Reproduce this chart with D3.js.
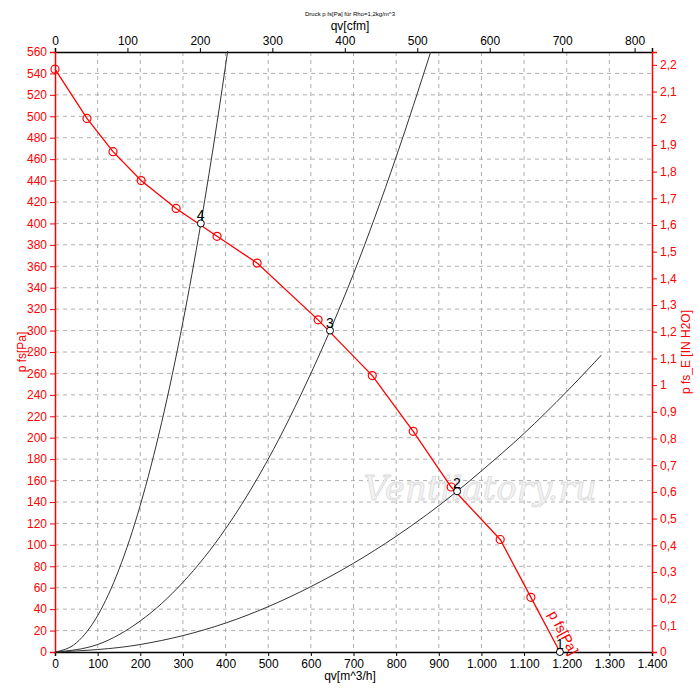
<!DOCTYPE html>
<html><head><meta charset="utf-8">
<script src="https://cdn.jsdelivr.net/npm/d3@7"></script>
<style>body{margin:0;background:#fff;font-family:"Liberation Sans",Arial,sans-serif;}</style>
</head><body><svg id="c" width="700" height="696"></svg>
<script>
// fan curve, markers (m3/h, Pa)
var fanQ = [0, 75, 136, 202, 284, 380, 474, 617, 744, 840, 929, 1044, 1116, 1184];
var fanP = [544, 498, 467, 440, 414, 388, 363, 310, 258, 206, 154, 105, 51, 0];
// system curves
var sysA_Q = [0, 50, 100, 150, 200, 250, 300, 342, 380, 405];
var sysA_P = [0, 8.5, 34, 77, 137, 214, 308, 400, 494, 561];
var sysB_Q = [0, 100, 200, 300, 400, 500, 600, 645, 700, 800, 881];
var sysB_P = [0, 7, 29, 65, 115, 180, 260, 300, 353, 462, 560];
var sysC_Q = [0, 200, 400, 600, 800, 943, 1000, 1100, 1200, 1281];
var sysC_P = [0, 7, 27, 61, 108, 150, 169, 204, 243, 277];
// operating points
var opLabels = ['1', '2', '3', '4'];
var opQ = [1184, 943, 645, 342];
var opP = [0, 150, 300, 400];

var svg = d3.select('#c');
var L = 55, R = 652, T = 52, B = 652;
var x = d3.scaleLinear().domain([0, 1400]).range([L, R]);
var y = d3.scaleLinear().domain([0, 560]).range([B, T]);
var xc = d3.scaleLinear().domain([0, 1400 / 1.699]).range([L, R]);
var yi = d3.scaleLinear().domain([0, 560 / 249.09]).range([B, T]);
var red = '#ff0000';

// grid
var g = svg.append('g').attr('stroke', '#b0b0b0').attr('stroke-dasharray', '4,4');
d3.range(100, 1400, 100).forEach(function (v) {
    g.append('line').attr('x1', x(v)).attr('x2', x(v)).attr('y1', T).attr('y2', B);
});
d3.range(20, 560, 20).forEach(function (v) {
    g.append('line').attr('x1', L).attr('x2', R).attr('y1', y(v)).attr('y2', y(v));
});

function fmtQ(d) { return d >= 1000 ? d3.format(',')(d).replace(',', '.') : d; }
var ax = svg.append('g').attr('transform', 'translate(0,' + B + ')')
    .call(d3.axisBottom(x).tickValues(d3.range(0, 1401, 100)).tickFormat(fmtQ).tickSize(4));
var at = svg.append('g').attr('transform', 'translate(0,' + T + ')')
    .call(d3.axisTop(xc).tickValues(d3.range(0, 801, 100)).tickSize(4));
var al = svg.append('g').attr('transform', 'translate(' + L + ',0)')
    .call(d3.axisLeft(y).tickValues(d3.range(0, 561, 20)).tickSize(5));
var ar = svg.append('g').attr('transform', 'translate(' + R + ',0)')
    .call(d3.axisRight(yi).tickValues(d3.range(0, 23).map(function (i) { return i / 10; }))
        .tickFormat(function (d) { return d3.format('.1~f')(d).replace('.', ','); }).tickSize(5));
[ax, at, al, ar].forEach(function (a) {
    a.selectAll('text').style('font-size', '12px').style('font-family', '"Liberation Sans",Arial');
    a.select('.domain').attr('stroke-width', 1.5);
});
[al, ar].forEach(function (a) {
    a.selectAll('text').attr('fill', red);
    a.selectAll('line,.domain').attr('stroke', red);
});

// watermark
svg.append('text').attr('x', 480).attr('y', 500).attr('text-anchor', 'middle')
    .attr('fill', '#f2f2f2').attr('stroke', '#dcdcdc').attr('stroke-width', 0.8)
    .style('font-family', '"DejaVu Serif",serif').style('font-style', 'italic')
    .style('font-size', '34px').text('Ventilatory.ru');

var line = d3.line().x(function (d) { return x(d[0]); }).y(function (d) { return y(d[1]); }).curve(d3.curveMonotoneX);
[[sysA_Q, sysA_P], [sysB_Q, sysB_P], [sysC_Q, sysC_P]].forEach(function (s) {
    svg.append('path').datum(d3.zip(s[0], s[1])).attr('d', line)
        .attr('fill', 'none').attr('stroke', '#333').attr('stroke-width', 1);
});
var fan = d3.zip(fanQ, fanP);
svg.append('path').datum(fan).attr('d', d3.line().x(function (d) { return x(d[0]); }).y(function (d) { return y(d[1]); }))
    .attr('fill', 'none').attr('stroke', red).attr('stroke-width', 1.3);
svg.selectAll('.m').data(fan.slice(0, -1)).enter().append('circle')
    .attr('cx', function (d) { return x(d[0]); }).attr('cy', function (d) { return y(d[1]); })
    .attr('r', 4).attr('fill', 'none').attr('stroke', red).attr('stroke-width', 1.2);

opQ.forEach(function (q, i) {
    svg.append('circle').attr('cx', x(q)).attr('cy', y(opP[i])).attr('r', 3.5)
        .attr('fill', '#fff').attr('stroke', '#000');
    svg.append('text').attr('x', x(q) - 4).attr('y', y(opP[i]) - 3).style('font-size', '14px')
        .text(opLabels[i]);
});

svg.append('text').attr('transform', 'translate(548,614) rotate(62)').attr('fill', red)
    .style('font-size', '14px').text('p fs[Pa]');

// titles
svg.append('text').attr('x', 350).attr('y', 16).attr('text-anchor', 'middle').style('font-size', '6px').text('Druck p fs[Pa] für Rho=1,2kg/m^3');
svg.append('text').attr('x', 350).attr('y', 30).attr('text-anchor', 'middle').style('font-size', '12px').text('qv[cfm]');
svg.append('text').attr('x', 350).attr('y', 680).attr('text-anchor', 'middle').style('font-size', '12px').text('qv[m^3/h]');
svg.append('text').attr('transform', 'translate(26,352) rotate(-90)').attr('text-anchor', 'middle')
    .attr('fill', red).style('font-size', '12px').text('p fs[Pa]');
svg.append('text').attr('transform', 'translate(690,352) rotate(-90)').attr('text-anchor', 'middle')
    .attr('fill', red).style('font-size', '12px').text('p fs_E [IN H2O]');
</script></body></html>
